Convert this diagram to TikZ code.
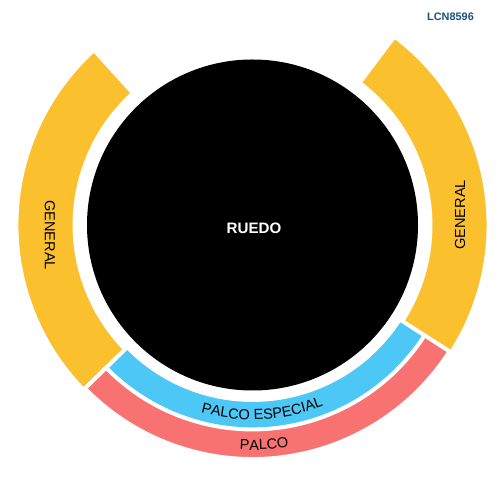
\documentclass[tikz,border=0pt]{standalone}
\usepackage{fontspec}
\setmainfont{Liberation Sans}
\usepackage{tikz}
\usetikzlibrary{decorations.text}
\definecolor{general}{HTML}{FBC02D}
\definecolor{especial}{HTML}{4DC7F6}
\definecolor{palco}{HTML}{F87272}
\definecolor{codigo}{HTML}{1B4F7C}
\tikzset{band/.style={draw=white,line width=2.2}}
\tikzset{zone/.style={inner sep=0pt,font=\fontsize{8.3}{10}\selectfont}}
\tikzset{arctext/.style={decorate,decoration={text along path,text align=center,
    text={|\fontsize{8.3}{10}\selectfont|#1}}}}
\newcommand{\seatband}[5]{
    \filldraw[band,fill=#1,shift={(c)}] (#2:#4) arc[start angle=#2,end angle=#3,radius=#4]
        -- (#3:#5) arc[start angle=#3,end angle=#2,radius=#5] -- cycle;
}

\begin{document}
\begin{tikzpicture}[x=0.02cm,y=0.02cm]
        \useasboundingbox (0,0) rectangle (500,500);
        \coordinate (c) at (252.5,275);

        \seatband{general}{132.2}{224.3}{178}{236}
        \seatband{general}{-32.7}{53}{178}{236}
        \seatband{especial}{-135.7}{-32.7}{175}{204.5}
        \seatband{palco}{-135.7}{-32.7}{204.5}{234}
        \fill[black] (c) circle[radius=165.5];

        \node[zone,text=white,font=\fontsize{8.6}{10}\selectfont\bfseries] (ruedo) at (254,272) {RUEDO};
        \node[zone,rotate=-90] (genizq) at (50,265) {GENERAL};
        \node[zone,rotate=90] (gender) at (460,285) {GENERAL};
        \node[zone,text=codigo,font=\fontsize{6.2}{8}\selectfont\bfseries] (cod) at (450.5,483) {LCN8596};

        \path[arctext={PALCO ESPECIAL}] (c) ++(-137:194.5) arc[start angle=-137,end angle=-37,radius=194.5];
        \path[arctext={PALCO}] (c) ++(-137:225) arc[start angle=-137,end angle=-37,radius=225];
    \end{tikzpicture}
\end{document}
